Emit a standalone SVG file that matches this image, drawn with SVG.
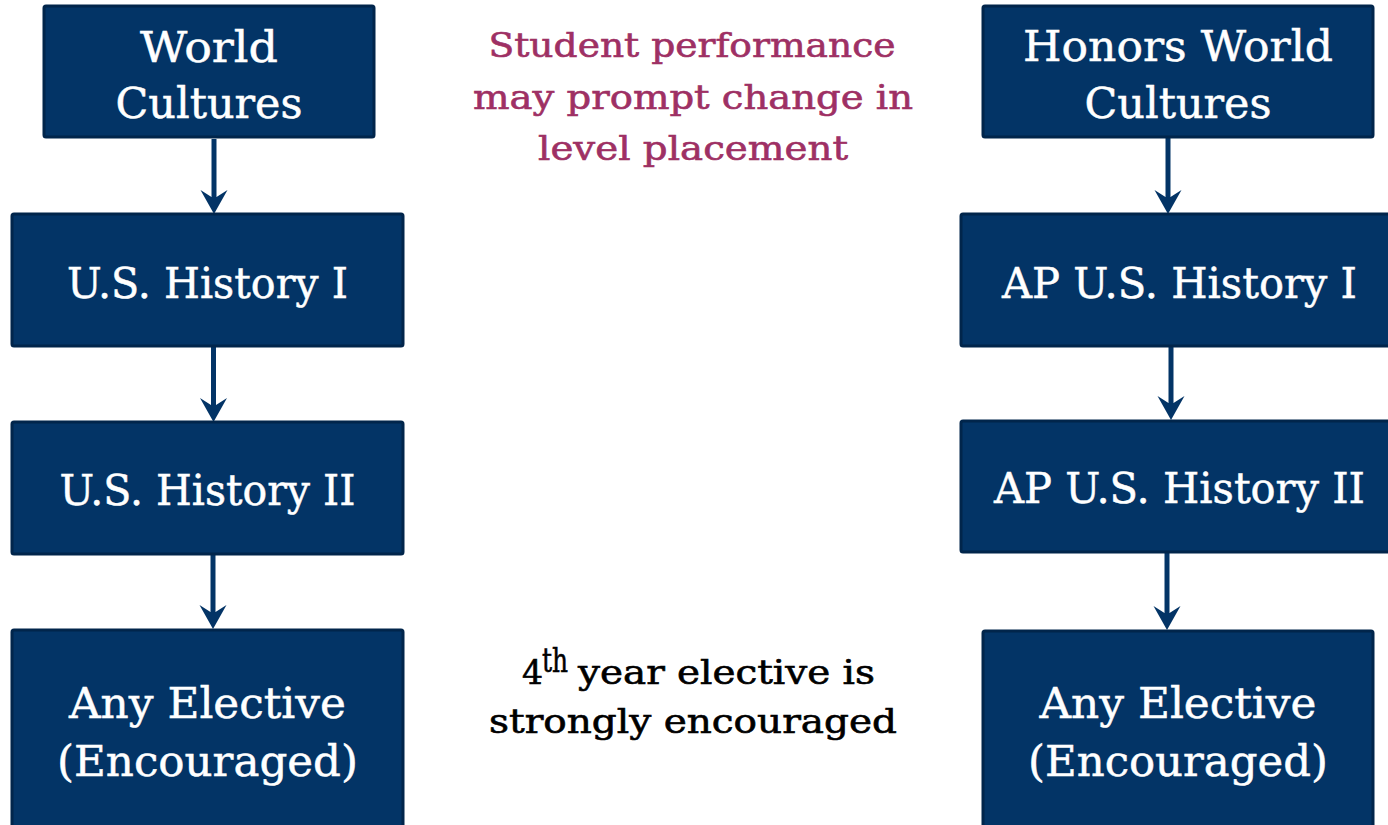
<svg xmlns="http://www.w3.org/2000/svg" width="1388" height="825" viewBox="0 0 1388 825">
  <defs>
    <style>
      .box { fill: #033466; stroke: #01254b; stroke-width: 3; }
      .bt { font-family: "DejaVu Serif", "Liberation Serif", serif; font-size: 43px; fill: #ffffff; stroke: #ffffff; stroke-width: 0.5; text-anchor: middle; }
      .note { font-family: "DejaVu Serif", "Liberation Serif", serif; font-size: 33px; fill: #9e3064; stroke: #9e3064; stroke-width: 0.6; text-anchor: middle; }
      .blk { font-family: "DejaVu Serif", "Liberation Serif", serif; font-size: 33px; fill: #000000; stroke: #000000; stroke-width: 0.6; }
      .conn { stroke: #033466; stroke-width: 5; fill: none; marker-end: url(#ah); }
    </style>
    <marker id="ah" viewBox="0 0 24 28" refX="7" refY="14" markerWidth="24" markerHeight="28" markerUnits="userSpaceOnUse" orient="auto">
      <path d="M24,14 L0,0.5 L7,11.5 L7,16.5 L0,27.5 Z" fill="#033466"/>
    </marker>
  </defs>

  <g id="connectors">
    <line class="conn" x1="214" y1="139" x2="214" y2="197"/>
    <line class="conn" x1="213.5" y1="347" x2="213.5" y2="405"/>
    <line class="conn" x1="213" y1="555" x2="213" y2="612"/>
    <line class="conn" x1="1168" y1="138" x2="1168" y2="197"/>
    <line class="conn" x1="1171" y1="347" x2="1171" y2="403"/>
    <line class="conn" x1="1167" y1="553" x2="1167" y2="613"/>
  </g>

  <g id="world-cultures">
    <rect class="box" x="44" y="6" width="330" height="131" rx="2"/>
    <text class="bt" x="209" y="62" textLength="138" lengthAdjust="spacingAndGlyphs">World</text>
    <text class="bt" x="209" y="118" textLength="187" lengthAdjust="spacingAndGlyphs">Cultures</text>
  </g>

  <g id="us-history-1">
    <rect class="box" x="12" y="214" width="391" height="132" rx="2"/>
    <text class="bt" x="207.5" y="298" textLength="281" lengthAdjust="spacingAndGlyphs">U.S. History I</text>
  </g>

  <g id="us-history-2">
    <rect class="box" x="12" y="422" width="391" height="132" rx="2"/>
    <text class="bt" x="207.5" y="505" textLength="296" lengthAdjust="spacingAndGlyphs">U.S. History II</text>
  </g>

  <g id="any-elective-left">
    <rect class="box" x="12" y="630" width="391" height="210" rx="2"/>
    <text class="bt" x="207.5" y="718" textLength="277" lengthAdjust="spacingAndGlyphs">Any Elective</text>
    <text class="bt" x="207.5" y="776" textLength="301" lengthAdjust="spacingAndGlyphs">(Encouraged)</text>
  </g>

  <g id="honors-world-cultures">
    <rect class="box" x="983" y="6" width="390" height="131" rx="2"/>
    <text class="bt" x="1178" y="61" textLength="310" lengthAdjust="spacingAndGlyphs">Honors World</text>
    <text class="bt" x="1178" y="118" textLength="187" lengthAdjust="spacingAndGlyphs">Cultures</text>
  </g>

  <g id="ap-us-history-1">
    <rect class="box" x="961" y="214" width="437" height="132" rx="2"/>
    <text class="bt" x="1179.5" y="298" textLength="355" lengthAdjust="spacingAndGlyphs">AP U.S. History I</text>
  </g>

  <g id="ap-us-history-2">
    <rect class="box" x="961" y="421" width="437" height="131" rx="2"/>
    <text class="bt" x="1179.5" y="503" textLength="371" lengthAdjust="spacingAndGlyphs">AP U.S. History II</text>
  </g>

  <g id="any-elective-right">
    <rect class="box" x="983" y="631" width="390" height="210" rx="2"/>
    <text class="bt" x="1178" y="718" textLength="277" lengthAdjust="spacingAndGlyphs">Any Elective</text>
    <text class="bt" x="1178" y="776" textLength="300" lengthAdjust="spacingAndGlyphs">(Encouraged)</text>
  </g>

  <g id="note-placement">
    <text class="note" x="692" y="57" textLength="407" lengthAdjust="spacingAndGlyphs">Student performance</text>
    <text class="note" x="693" y="109" textLength="440" lengthAdjust="spacingAndGlyphs">may prompt change in</text>
    <text class="note" x="693" y="160" textLength="310" lengthAdjust="spacingAndGlyphs">level placement</text>
  </g>

  <g id="note-elective">
    <text class="blk" x="522" y="684">4</text>
    <text class="blk" x="542" y="672" font-size="19" stroke-width="0.3" textLength="26" lengthAdjust="spacingAndGlyphs">th</text>
    <text class="blk" x="578" y="684" textLength="297" lengthAdjust="spacingAndGlyphs">year elective is</text>
    <text class="blk" x="489" y="733" textLength="408" lengthAdjust="spacingAndGlyphs">strongly encouraged</text>
  </g>
</svg>
